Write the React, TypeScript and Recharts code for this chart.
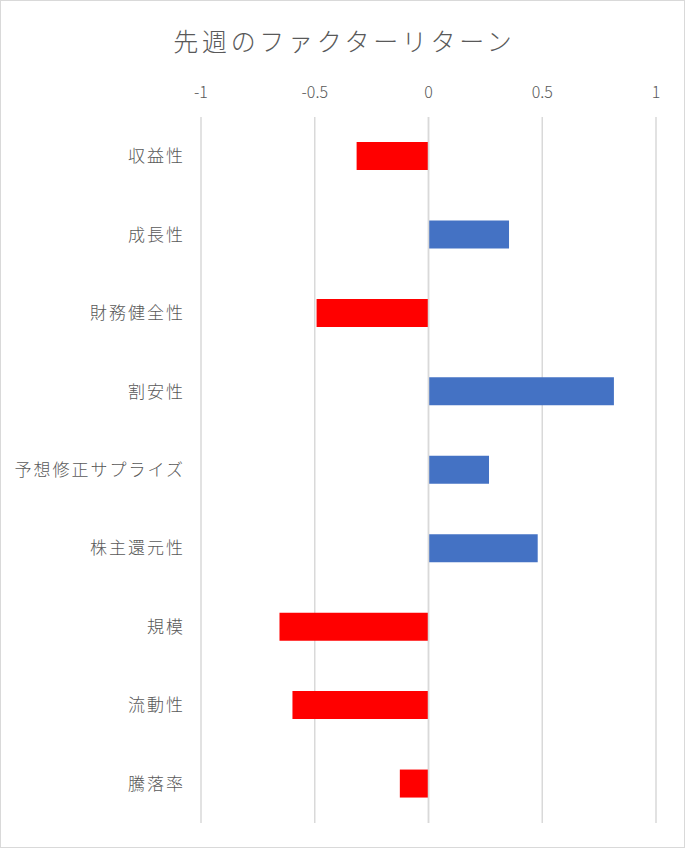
import React from "react";
import { BarChart, Bar, XAxis, YAxis, CartesianGrid, Cell, ReferenceLine } from "recharts";

const categories = [
  "収益性",
  "成長性",
  "財務健全性",
  "割安性",
  "予想修正サプライズ",
  "株主還元性",
  "規模",
  "流動性",
  "騰落率",
];
const returns = [-0.316, 0.354, -0.492, 0.815, 0.266, 0.48, -0.655, -0.598, -0.126];
const xTicks = [-1, -0.5, 0, 0.5, 1];

const data = categories.map((name, i) => ({ name, value: returns[i] }));

const TEXT = "#595959";
const FONT = "'Noto Sans CJK JP', 'Noto Sans', sans-serif";

export default function App() {
  return (
    <div
      style={{
        position: "absolute",
        left: 0,
        top: 0,
        width: 685,
        height: 848,
        background: "#fff",
        fontFamily: FONT,
      }}
    >
      <div
        style={{
          position: "absolute",
          left: 0,
          top: 22,
          width: 685,
          textAlign: "center",
          fontSize: 25,
          letterSpacing: 3.7,
          fontWeight: 300,
          color: TEXT,
          lineHeight: "36px",
          paddingLeft: 3.7,
          boxSizing: "border-box",
        }}
      >
        先週のファクターリターン
      </div>
      <BarChart
        width={685}
        height={848}
        data={data}
        layout="vertical"
        margin={{ top: 87, right: 29, bottom: 25, left: 0 }}
        barCategoryGap={0}
      >
        <CartesianGrid horizontal={false} vertical stroke="#d9d9d9" strokeWidth={1.5} />
        <XAxis
          type="number"
          orientation="top"
          domain={[-1, 1]}
          ticks={xTicks}
          axisLine={false}
          tickLine={false}
          height={30}
          tickMargin={13}
          tick={{ fill: TEXT, fontSize: 16, fontFamily: FONT, fontWeight: 300 }}
          interval={0}
        />
        <YAxis
          type="category"
          dataKey="name"
          width={201}
          axisLine={false}
          tickLine={false}
          tickMargin={10}
          interval={0}
          tick={{ fill: TEXT, fontSize: 17, fontFamily: FONT, fontWeight: 300, letterSpacing: 2 }}
        />
        <Bar dataKey="value" barSize={28} isAnimationActive={false}>
          {data.map((d, i) => (
            <Cell key={i} fill={d.value < 0 ? "#FF0000" : "#4472C4"} />
          ))}
        </Bar>
        <ReferenceLine x={0} stroke="#d9d9d9" strokeWidth={1.5} />
      </BarChart>
      <div
        style={{
          position: "absolute",
          left: 0,
          top: 0,
          width: 685,
          height: 848,
          border: "1px solid #d9d9d9",
          boxSizing: "border-box",
          pointerEvents: "none",
        }}
      />
    </div>
  );
}
